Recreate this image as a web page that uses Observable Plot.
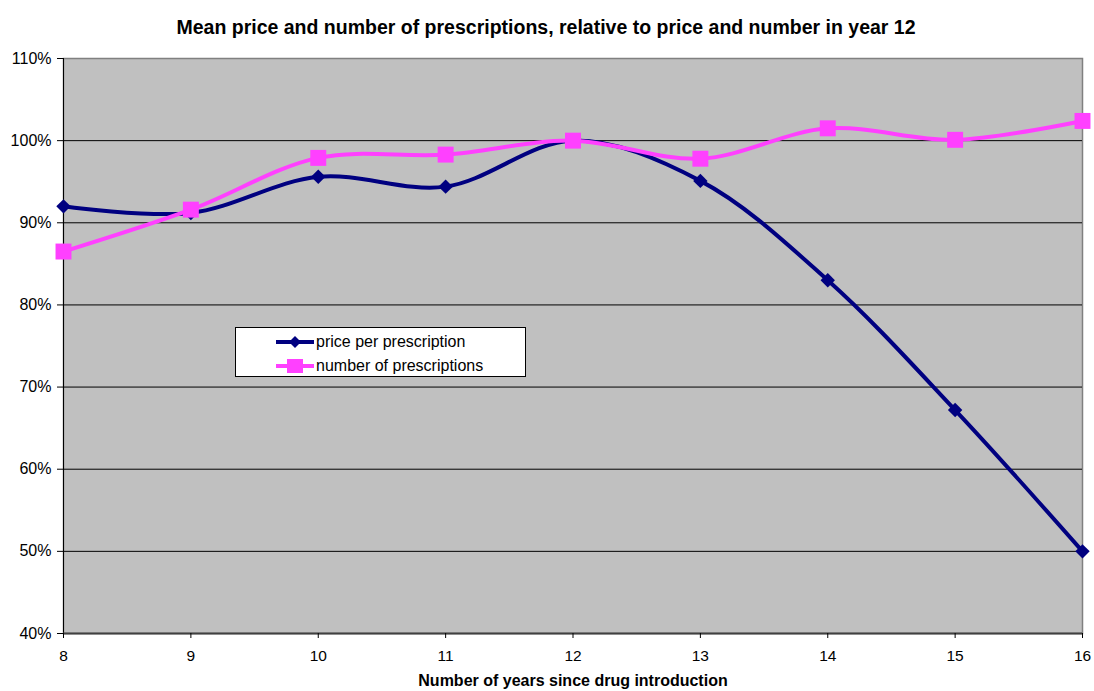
<!DOCTYPE html>
<html>
<head>
<meta charset="utf-8">
<script src="https://cdn.jsdelivr.net/npm/d3@7"></script>
<script src="https://cdn.jsdelivr.net/npm/@observablehq/plot@0.6"></script>
<style>
  html, body { margin: 0; padding: 0; background: #fff; }
  #wrap { position: relative; width: 1094px; height: 691px; font-family: "Liberation Sans", Arial, sans-serif; }
  #legend { position: absolute; left: 235px; top: 327px; width: 289px; height: 48px; background: #fff; border: 1px solid #000; font-size: 16px; color: #000; }
  .row { position: absolute; left: 0; height: 24px; display: flex; align-items: center; }
  .row span { margin-left: 1px; }
</style>
</head>
<body>
<div id="wrap"></div>
<script>
const years = [8, 9, 10, 11, 12, 13, 14, 15, 16];
const pricePerPrescription = [92.0, 91.2, 95.6, 94.4, 100.0, 95.1, 83.0, 67.2, 50.0];
const numberOfPrescriptions = [86.5, 91.6, 97.9, 98.3, 100.0, 97.8, 101.5, 100.1, 102.4];
const yTicks = [40, 50, 60, 70, 80, 90, 100, 110];
const seriesNames = ["price per prescription", "number of prescriptions"];
const seriesColors = ["#000080", "#FF40FF"];
const titleText = "Mean price and number of prescriptions, relative to price and number in year 12";
const xLabel = "Number of years since drug introduction";

const price = years.map((x, i) => ({x, y: pricePerPrescription[i]}));
const number = years.map((x, i) => ({x, y: numberOfPrescriptions[i]}));

const chart = Plot.plot({
  width: 1094,
  height: 691,
  marginLeft: 63,
  marginRight: 12,
  marginTop: 58,
  marginBottom: 58,
  style: {fontFamily: "'Liberation Sans', Arial, sans-serif", background: "#fff", color: "#000"},
  x: {domain: [8, 16], label: null},
  y: {domain: [40, 110], label: null},
  marks: [
    Plot.frame({fill: "#C0C0C0", stroke: "#808080", strokeWidth: 1.5}),
    Plot.gridY(yTicks.filter(d => d > 40 && d < 110), {stroke: "#000", strokeOpacity: 1, strokeWidth: 1}),
    Plot.ruleX([8], {stroke: "#000", strokeWidth: 1}),
    Plot.ruleY([40], {stroke: "#404040", strokeWidth: 2}),
    Plot.axisY({ticks: yTicks, tickFormat: d => d + "%", tickSize: 6, tickPadding: 6, fontSize: 16, label: null}),
    Plot.axisX({ticks: years, tickFormat: d => String(d), tickSize: 5, tickPadding: 11, fontSize: 15.5, label: null}),
    Plot.line(price, {x: "x", y: "y", stroke: seriesColors[0], strokeWidth: 4, curve: "catmull-rom"}),
    Plot.dot(price, {x: "x", y: "y", symbol: "diamond2", r: 6.5, fill: seriesColors[0], stroke: "none"}),
    Plot.line(number, {x: "x", y: "y", stroke: seriesColors[1], strokeWidth: 4, curve: "catmull-rom"}),
    Plot.dot(number, {x: "x", y: "y", symbol: "square", r: 9, fill: seriesColors[1], stroke: "none"}),
    Plot.text([titleText], {frameAnchor: "top", dy: -38, fontSize: 19.5, fontWeight: "bold", text: d => d, dx: -27}),
    Plot.text([xLabel], {frameAnchor: "bottom", dy: 52, fontSize: 16, fontWeight: "bold", text: d => d})
  ]
});
const wrap = document.getElementById("wrap");
wrap.appendChild(chart);

// Legend
const legend = document.createElement("div");
legend.id = "legend";
seriesNames.forEach((name, i) => {
  const row = document.createElement("div");
  row.className = "row";
  row.style.top = (i === 0 ? 2 : 26) + "px";
  row.style.left = "39px";
  const sw = d3.create("svg").attr("width", 40).attr("height", 16);
  sw.append("line").attr("x1", 1).attr("x2", 39).attr("y1", 8).attr("y2", 8)
    .attr("stroke", seriesColors[i]).attr("stroke-width", 4);
  if (i === 0) {
    sw.append("path").attr("d", "M20,2L26,8L20,14L14,8Z").attr("fill", seriesColors[i]);
  } else {
    sw.append("rect").attr("x", 12).attr("y", 1).attr("width", 16).attr("height", 14).attr("fill", seriesColors[i]);
  }
  row.appendChild(sw.node());
  const t = document.createElement("span");
  t.textContent = name;
  row.appendChild(t);
  legend.appendChild(row);
});
wrap.appendChild(legend);
</script>
</body>
</html>
